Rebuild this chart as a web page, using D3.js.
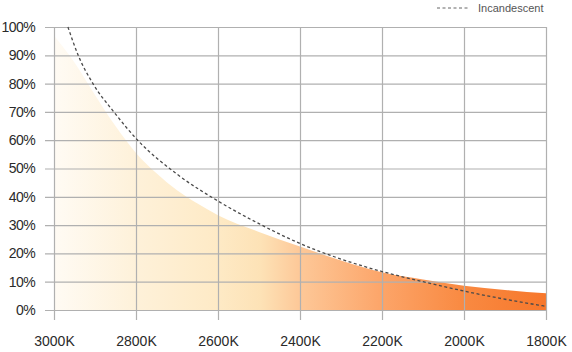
<!DOCTYPE html>
<html><head><meta charset="utf-8">
<script src="https://cdn.jsdelivr.net/npm/d3@7"></script>
<style>
html,body{margin:0;padding:0;background:#fff;}
svg{display:block;}
</style></head>
<body>
<svg id="chart" width="572" height="352"></svg>
<script>
const kelvinTicks = [3000, 2800, 2600, 2400, 2200, 2000, 1800];
const percentTicks = [0, 10, 20, 30, 40, 50, 60, 70, 80, 90, 100];
const ledKelvin = [3000, 2950, 2900, 2850, 2800, 2750, 2700, 2650, 2600, 2500, 2400, 2300, 2200, 2100, 2000, 1900, 1800];
const ledPercent = [97, 87.5, 76, 65, 55.5, 48.3, 42.3, 37.6, 33.5, 27.6, 22.4, 17.5, 13.3, 10.8, 8.6, 7.1, 5.9];
const incKelvin = [2966, 2941, 2905, 2854, 2796, 2700, 2600, 2500, 2400, 2300, 2200, 2100, 2000, 1900, 1800];
const incPercent = [100, 90, 80, 70, 60, 48, 38.5, 30.5, 23.5, 18, 13.6, 10, 6.7, 3.8, 1.3];
const legendLabel = "Incandescent";

const svg = d3.select("#chart");
const x = d3.scaleLinear().domain([3000, 1800]).range([54, 546]);
const y = d3.scaleLinear().domain([0, 100]).range([310, 27]);

const defs = svg.append("defs");
const grad = defs.append("linearGradient").attr("id", "fillGrad")
  .attr("gradientUnits", "userSpaceOnUse")
  .attr("x1", x(3000)).attr("x2", x(1800)).attr("y1", 0).attr("y2", 0);
const stops = [[0, "#fffbf4"], [0.17, "#fef1d9"], [0.33, "#feeac6"], [0.42, "#fde2b6"], [0.5, "#fdc898"], [0.67, "#fca468"], [0.83, "#f98a42"], [1, "#f7772b"]];
stops.forEach(s => grad.append("stop").attr("offset", s[0]).attr("stop-color", s[1]));

const led = ledKelvin.map((k, i) => ({k, v: ledPercent[i]}));
const inc = incKelvin.map((k, i) => ({k, v: incPercent[i]}));

svg.append("path").datum(led)
  .attr("fill", "url(#fillGrad)")
  .attr("d", d3.area().x(d => x(d.k)).y0(y(0)).y1(d => y(d.v)).curve(d3.curveMonotoneX));

const yAxis = svg.append("g").attr("transform", "translate(45,0)")
  .call(d3.axisLeft(y).tickValues(percentTicks).tickFormat(d => d + "%").tickSize(-(547 - 45)).tickPadding(10));
const xAxis = svg.append("g").attr("transform", "translate(0,320)")
  .call(d3.axisBottom(x).tickValues(kelvinTicks).tickFormat(d => d + "K").tickSize(-(320 - 27)).tickPadding(16));

[yAxis, xAxis].forEach(g => {
  g.select(".domain").remove();
  g.selectAll(".tick line").attr("stroke", "#b0b0b0").attr("stroke-width", 1.2);
  g.selectAll(".tick text").attr("fill", "#2a2a2a").style("font-family", "'Liberation Sans', Arial, sans-serif").style("font-size", "14px");
});
yAxis.selectAll(".tick text").style("letter-spacing", "-0.6px");

svg.append("path").datum(inc)
  .attr("fill", "none").attr("stroke", "#4a4a4a").attr("stroke-width", 1.3)
  .attr("stroke-dasharray", "3,2.5")
  .attr("d", d3.line().x(d => x(d.k)).y(d => y(d.v)).curve(d3.curveMonotoneX));

const lg = svg.append("g");
lg.append("line").attr("x1", 437).attr("x2", 470).attr("y1", 8).attr("y2", 8)
  .attr("stroke", "#666").attr("stroke-width", 1).attr("stroke-dasharray", "3,2.5");
lg.append("text").attr("x", 478).attr("y", 12).text(legendLabel)
  .attr("fill", "#555").style("font-family", "'Liberation Sans', Arial, sans-serif").style("font-size", "11px");
</script>
</body></html>
